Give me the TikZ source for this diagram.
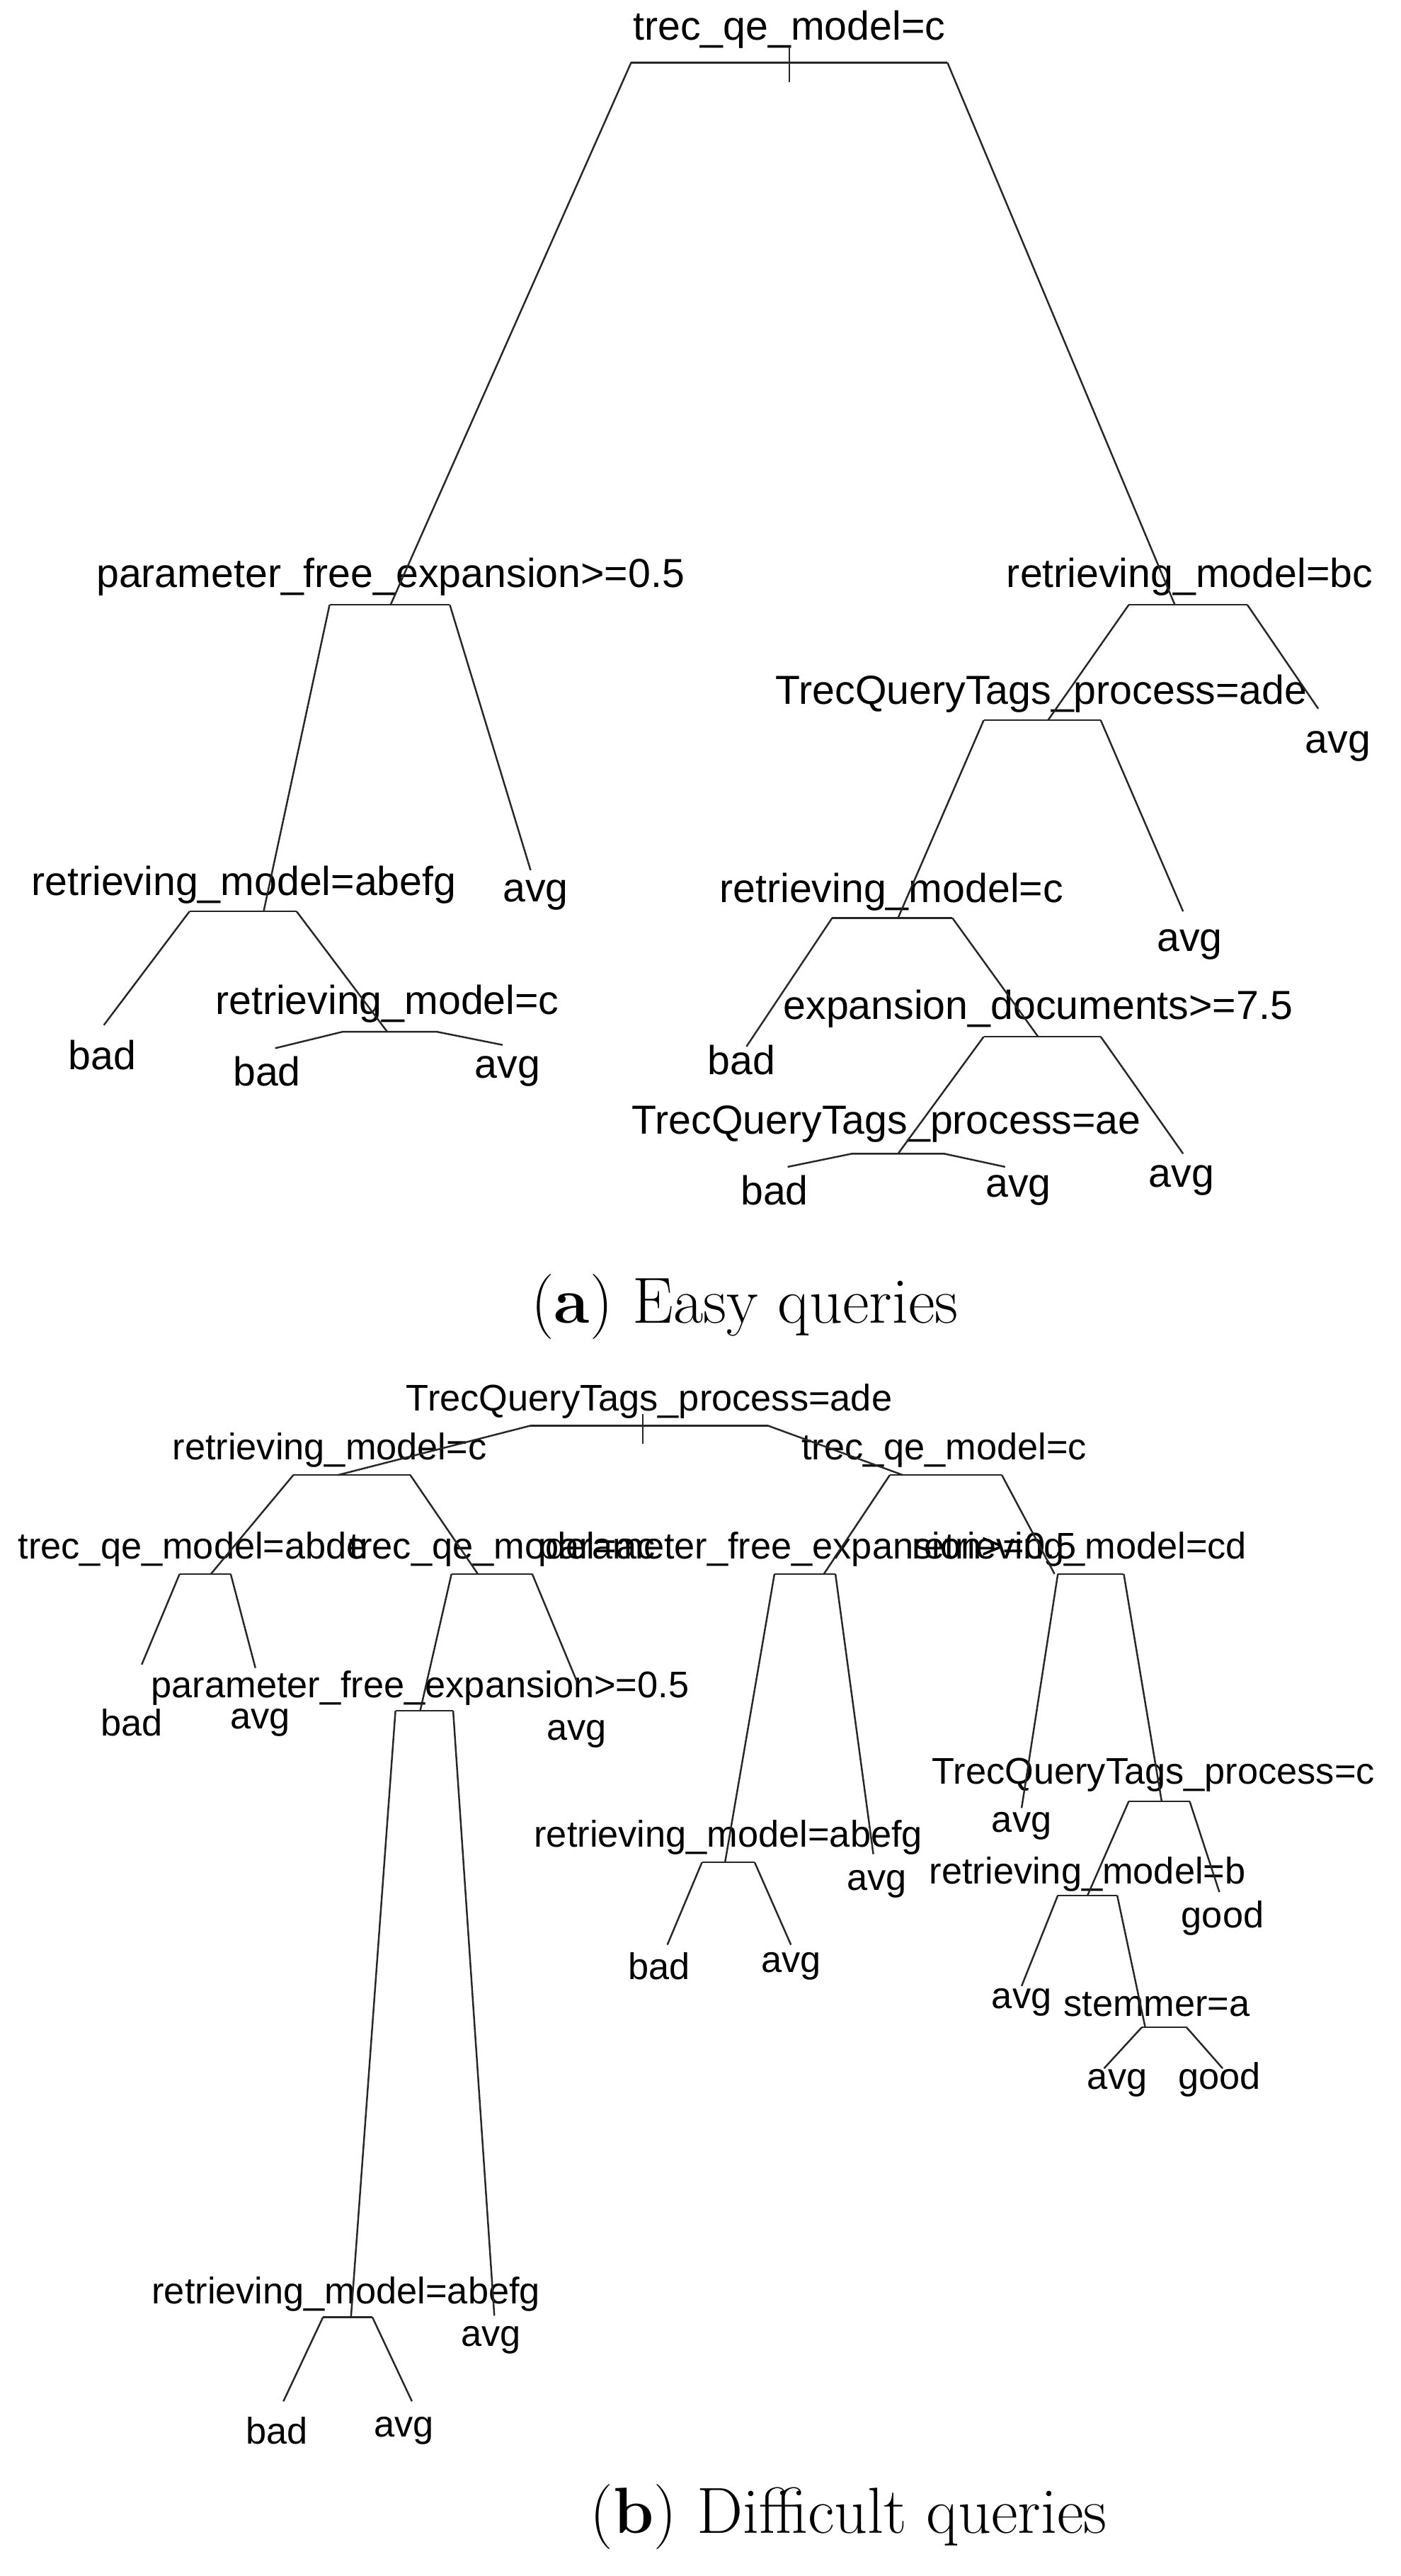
\documentclass[tikz,border=0pt]{standalone}
\usepackage{fontspec}
\setmainfont{Latin Modern Roman}
\newfontfamily\lsans{Liberation Sans}
\begin{document}
\begin{tikzpicture}[x=0.02cm,y=-0.02cm,
  lab/.style={font=\lsans\fontsize{14}{16}\selectfont,inner sep=0pt},
  labb/.style={font=\lsans\fontsize{12.8}{15}\selectfont,inner sep=0pt},
  br/.style={line width=0.6pt,black!85}]
\useasboundingbox (0,0) rectangle (850,1563);
% ---------- (a) ----------
\node[lab] (a0) at (479,18) {trec\_qe\_model=c};
\draw[br] (383,38) -- (575,38) (479,28) -- (479,50);
\node[lab] (a1) at (237,350) {parameter\_free\_expansion>=0.5};
\draw[br] (200,367) -- (273,367);
\node[lab] (a2) at (722,350) {retrieving\_model=bc};
\draw[br] (685,367) -- (757,367);
\draw[br] (383,38) -- (237,367) (575,38) -- (713,367);
\node[lab] (a3) at (148,537) {retrieving\_model=abefg};
\draw[br] (115,553) -- (180,553);
\node[lab] (a4) at (325,543) {avg};
\draw[br] (200,367) -- (160,553) (273,367) -- (322,528);
\node[lab] (a5) at (62,640) {bad};
\node[lab] (a6) at (235,609) {retrieving\_model=c};
\draw[br] (115,553) -- (63,622) (180,553) -- (235,626);
\draw[br] (167,636) -- (208,626) -- (265,626) -- (305,634);
\node[lab] (a7) at (162,650) {bad};
\node[lab] (a8) at (308,650) {avg};
\node[lab] (a9) at (812,453) {avg};
\node[lab] (a10) at (632,421) {TrecQueryTags\_process=ade};
\draw[br] (597,437) -- (668,437);
\draw[br] (757,367) -- (800,430) (685,367) -- (636,437);
\node[lab] (a11) at (722,573) {avg};
\node[lab] (a12) at (541,541) {retrieving\_model=c};
\draw[br] (505,557) -- (578,557);
\draw[br] (668,437) -- (718,553) (597,437) -- (545,557);
\node[lab] (a13) at (450,643) {bad};
\node[lab] (a14) at (630,612) {expansion\_documents>=7.5};
\draw[br] (597,629) -- (668,629);
\draw[br] (505,557) -- (453,635) (578,557) -- (630,629);
\node[lab] (a15) at (717,716) {avg};
\node[lab] (a16) at (538,682) {TrecQueryTags\_process=ae};
\draw[br] (668,629) -- (718,700) (597,629) -- (545,700);
\draw[br] (478,708) -- (517,700) -- (573,700) -- (610,708);
\node[lab] (a17) at (470,722) {bad};
\node[lab] (a18) at (618,722) {avg};
\node[font=\fontsize{22.5}{26}\selectfont] (capa) at (452,793) {(\textbf{a}) Easy queries};
% ---------- (b) ----------
\node[labb] (b0) at (394,850) {TrecQueryTags\_process=ade};
\draw[br] (322,865) -- (466,865) (390,858) -- (390,876);
\node[labb] (b1) at (200,880) {retrieving\_model=c};
\draw[br] (178,895) -- (249,895);
\node[labb] (b2) at (573,880) {trec\_qe\_model=c};
\draw[br] (540,895) -- (608,895);
\draw[br] (322,865) -- (205,895) (466,865) -- (548,895);
\node[labb] (b3) at (117,940) {trec\_qe\_model=abde};
\draw[br] (109,955) -- (140,955);
\node[labb] (b4) at (305,940) {trec\_qe\_model=ac};
\draw[br] (274,955) -- (323,955);
\draw[br] (178,895) -- (128,955) (249,895) -- (290,955);
\node[labb] (b5) at (80,1045) {bad};
\node[labb] (b6) at (158,1045) {avg};
\draw[br] (109,955) -- (86,1010) (140,955) -- (155,1012);
\node[labb] (b7) at (350,1052) {avg};
\node[labb] (b8) at (255,1024) {parameter\_free\_expansion>=0.5};
\draw[br] (240,1038) -- (275,1038);
\draw[br] (323,955) -- (350,1020) (274,955) -- (255,1038);
\node[labb] (b9) at (210,1392) {retrieving\_model=abefg};
\draw[br] (196,1406) -- (226,1406);
\node[labb] (b10) at (298,1420) {avg};
\draw[br] (240,1038) -- (213,1406) (275,1038) -- (300,1405);
\node[labb] (b11) at (168,1475) {bad};
\node[labb] (b12) at (245,1475) {avg};
\draw[br] (196,1406) -- (172,1457) (226,1406) -- (250,1457);
\node[labb] (b13) at (490,940) {parameter\_free\_expansion>=0.5};
\draw[br] (470,955) -- (507,955);
\node[labb] (b14) at (655,940) {retrieving\_model=cd};
\draw[br] (642,955) -- (682,955);
\draw[br] (540,895) -- (500,955) (608,895) -- (640,955);
\node[labb] (b15) at (442,1115) {retrieving\_model=abefg};
\draw[br] (426,1130) -- (458,1130);
\node[labb] (b16) at (532,1143) {avg};
\draw[br] (470,955) -- (440,1130) (507,955) -- (530,1125);
\node[labb] (b17) at (400,1193) {bad};
\node[labb] (b18) at (480,1193) {avg};
\draw[br] (426,1130) -- (405,1180) (458,1130) -- (480,1180);
\node[labb] (b19) at (620,1108) {avg};
\node[labb] (b20) at (700,1077) {TrecQueryTags\_process=c};
\draw[br] (685,1093) -- (722,1093);
\draw[br] (642,955) -- (620,1097) (682,955) -- (705,1093);
\node[labb] (b21) at (742,1164) {good};
\node[labb] (b22) at (660,1137) {retrieving\_model=b};
\draw[br] (642,1150) -- (678,1150);
\draw[br] (722,1093) -- (740,1148) (685,1093) -- (660,1150);
\node[labb] (b23) at (620,1215) {avg};
\node[labb] (b24) at (702,1216) {stemmer=a};
\draw[br] (693,1230) -- (720,1230);
\draw[br] (642,1150) -- (620,1205) (678,1150) -- (695,1230);
\node[labb] (b25) at (678,1264) {avg};
\node[labb] (b26) at (740,1262) {good};
\draw[br] (693,1230) -- (670,1255) (720,1230) -- (742,1255);
\node[font=\fontsize{22.5}{26}\selectfont] (capb) at (515,1527) {(\textbf{b}) Difficult queries};
\end{tikzpicture}
\end{document}
